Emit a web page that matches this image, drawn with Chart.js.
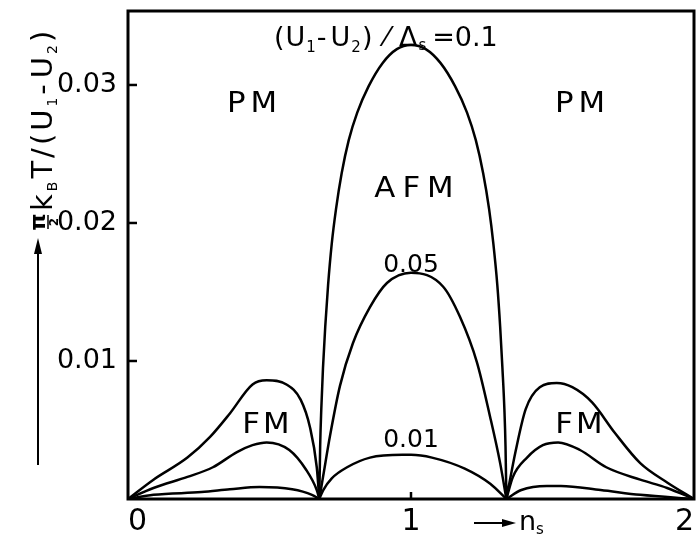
<!DOCTYPE html>
<html><head><meta charset="utf-8">
<script src="https://cdn.jsdelivr.net/npm/chart.js@4/dist/chart.umd.min.js"></script>
<style>html,body{margin:0;padding:0;background:#fff}canvas{display:block}</style>
</head><body>
<canvas id="c" width="698" height="537"></canvas>
<script>
// ---- data ----
const xTicks = [0, 1, 2];
const yTicks = [0.01, 0.02, 0.03];
const yTickLabels = ['0.01', '0.02', '0.03'];
const curveLabels = ['0.1', '0.05', '0.01'];

// (U1-U2)/Δs = 0.1  (null separates FM | AFM | FM branches)
const n_01 = [0, 0.09, 0.21, 0.29, 0.36, 0.44, 0.49, 0.56, 0.61, 0.643, 0.667, 0.676,
              0.676, 0.676, 0.679, 0.683, 0.689, 0.697, 0.707, 0.72, 0.735, 0.755, 0.78, 0.81, 0.85, 0.90, 0.95,
              1.0, 1.052, 1.104, 1.156, 1.198, 1.229, 1.255, 1.276, 1.291, 1.305, 1.315, 1.323, 1.33, 1.334, 1.337,
              1.337, 1.337, 1.37, 1.405, 1.455, 1.515, 1.57, 1.64, 1.72, 1.81, 1.905, 2.0];
const T_01 = [0, 0.0014, 0.0030, 0.0045, 0.0062, 0.0083, 0.0086, 0.0083, 0.0072, 0.0052, 0.0023, 0,
              null, 0, 0.0038, 0.0065, 0.0095, 0.0125, 0.0155, 0.0185, 0.0210, 0.0236, 0.0260, 0.0280, 0.0299, 0.0316, 0.0326,
              0.0329, 0.0326, 0.0316, 0.0299, 0.0280, 0.0260, 0.0236, 0.0210, 0.0185, 0.0155, 0.0125, 0.0095, 0.0065, 0.0038, 0,
              null, 0, 0.0035, 0.0065, 0.0081, 0.0084, 0.0081, 0.0070, 0.0048, 0.0026, 0.0012, 0];

// (U1-U2)/Δs = 0.05
const n_005 = [0, 0.09, 0.21, 0.30, 0.385, 0.44, 0.49, 0.57, 0.63, 0.667, 0.676,
               0.676, 0.676, 0.69, 0.714, 0.749, 0.795, 0.855, 0.915, 1.0, 1.113, 1.173, 1.233, 1.279, 1.315, 1.337,
               1.337, 1.337, 1.36, 1.41, 1.466, 1.52, 1.597, 1.69, 1.81, 1.905, 2.0];
const T_005 = [0, 0.0008, 0.0016, 0.0023, 0.0034, 0.0039, 0.0041, 0.00355, 0.0021, 0.00065, 0,
               null, 0, 0.0017, 0.0046, 0.0082, 0.0113, 0.0139, 0.01565, 0.0164, 0.0154, 0.0132, 0.0099, 0.0060, 0.0026, 0,
               null, 0, 0.0016, 0.0030, 0.0039, 0.0041, 0.00355, 0.0023, 0.0014, 0.0008, 0];

// (U1-U2)/Δs = 0.01
const n_001 = [0, 0.09, 0.26, 0.36, 0.465, 0.58, 0.65, 0.676,
               0.676, 0.676, 0.69, 0.72, 0.774, 0.855, 0.97, 1.0, 1.074, 1.19, 1.28, 1.337,
               1.337, 1.337, 1.39, 1.48, 1.53, 1.67, 1.81, 2.0];
const T_001 = [0, 0.0003, 0.0005, 0.0007, 0.00087, 0.0007, 0.0003, 0,
               null, 0, 0.00065, 0.0015, 0.0023, 0.0030, 0.0032, 0.0032, 0.0030, 0.0022, 0.0011, 0,
               null, 0, 0.00065, 0.00094, 0.00094, 0.00065, 0.0003, 0];

// ---- chart ----
const FONT = '"DejaVu Sans", "Liberation Sans", sans-serif';
const pts = (n, t) => n.map((v, i) => ({ x: v, y: t[i] }));
const mkSet = (label, n, t) => ({
  label, data: pts(n, t), borderColor: '#000', borderWidth: 2.5,
  pointRadius: 0, fill: false, cubicInterpolationMode: 'monotone', spanGaps: false
});

function drawRuns(ctx, runs, x, y, gap) {
  for (const r of runs) {
    ctx.font = (r.bold ? 'bold ' : '') + r.size + 'px ' + FONT;
    ctx.fillText(r.t, x, y + (r.dy || 0));
    x += ctx.measureText(r.t).width + (r.gap !== undefined ? r.gap : (gap || 0));
  }
  return x;
}
function spaced(ctx, text, cx, y, size, sp, sx) {
  sx = sx || 1;
  ctx.save();
  ctx.font = size + 'px ' + FONT;
  ctx.textAlign = 'left';
  const chars = [...text];
  const w = chars.reduce((s, c) => s + ctx.measureText(c).width * sx, 0) + sp * (chars.length - 1);
  let x = cx - w / 2;
  for (const c of chars) {
    ctx.save(); ctx.translate(x, y); ctx.scale(sx, 1); ctx.fillText(c, 0, 0); ctx.restore();
    x += ctx.measureText(c).width * sx + sp;
  }
  ctx.restore();
}

const decor = {
  id: 'decor',
  afterDatasetsDraw(chart) {
    const ctx = chart.ctx, a = chart.chartArea;
    const xs = chart.scales.x, ys = chart.scales.y;
    ctx.save();
    ctx.strokeStyle = '#000'; ctx.fillStyle = '#000';
    // frame
    ctx.lineWidth = 3;
    ctx.strokeRect(a.left, a.top, a.right - a.left, a.bottom - a.top);
    // inward ticks
    ctx.lineWidth = 2.5;
    yTicks.forEach(v => {
      const py = ys.getPixelForValue(v);
      ctx.beginPath(); ctx.moveTo(a.left, py); ctx.lineTo(a.left + 9, py); ctx.stroke();
    });
    const p1 = xs.getPixelForValue(1);
    ctx.beginPath(); ctx.moveTo(p1, a.bottom); ctx.lineTo(p1, a.bottom - 7); ctx.stroke();

    // annotations
    ctx.textBaseline = 'alphabetic'; ctx.textAlign = 'left';
    drawRuns(ctx, [
      { t: '(', size: 27 }, { t: 'U', size: 27 }, { t: '1', size: 15, dy: 6 }, { t: '-', size: 27, gap: 4 },
      { t: 'U', size: 27 }, { t: '2', size: 15, dy: 6 }, { t: ')', size: 27, gap: 12 },
      { t: '⁄', size: 27, gap: 10 }, { t: 'Δ', size: 27 }, { t: 's', size: 15, dy: 4, gap: 6 }, { t: '=0.1', size: 27 }
    ], 274, 46, 1);
    spaced(ctx, 'PM', 252, 112, 28, 5, 1.1);
    spaced(ctx, 'PM', 580, 112, 28, 5, 1.1);
    spaced(ctx, 'AFM', 414, 197, 28, 7, 1.1);
    spaced(ctx, 'FM', 266, 433, 28, 3, 1.1);
    spaced(ctx, 'FM', 579, 433, 28, 3, 1.1);
    spaced(ctx, curveLabels[1], 411, 272, 25, 0, 1);
    spaced(ctx, curveLabels[2], 411, 447, 25, 0, 1);

    // x-axis arrow + n_s
    ctx.lineWidth = 2;
    ctx.beginPath(); ctx.moveTo(474, 523); ctx.lineTo(505, 523); ctx.stroke();
    ctx.beginPath(); ctx.moveTo(516, 523); ctx.lineTo(502, 519); ctx.lineTo(502, 527); ctx.closePath(); ctx.fill();
    drawRuns(ctx, [{ t: 'n', size: 27 }, { t: 's', size: 15, dy: 4 }], 519, 530, 0);

    // y-axis title (rotated) with arrow
    ctx.save();
    ctx.rotate(-Math.PI / 2);
    // rotated frame: screen x = yr, screen y = -xr
    ctx.textAlign = 'center';
    ctx.font = 'bold 22px ' + FONT;
    ctx.fillText('π', -222, 45);
    ctx.lineWidth = 1.5;
    ctx.beginPath(); ctx.moveTo(-229, 48); ctx.lineTo(-215, 48); ctx.stroke();
    ctx.font = 'bold 12px ' + FONT;
    ctx.fillText('2', -222, 58);
    ctx.textAlign = 'left';
    drawRuns(ctx, [
      { t: 'k', size: 29 }, { t: 'B', size: 14, dy: 5 }, { t: 'T', size: 29 }, { t: '/', size: 29 }, { t: '(', size: 29 },
      { t: 'U', size: 29 }, { t: '1', size: 14, dy: 5 }, { t: '-', size: 29, gap: 6 }, { t: 'U', size: 29 },
      { t: '2', size: 14, dy: 5 }, { t: ')', size: 29 }
    ], -211, 52, 3);
    ctx.restore();
    ctx.lineWidth = 2;
    ctx.beginPath(); ctx.moveTo(38, 465); ctx.lineTo(38, 250); ctx.stroke();
    ctx.beginPath(); ctx.moveTo(38, 238); ctx.lineTo(34, 254); ctx.lineTo(42, 254); ctx.closePath(); ctx.fill();
    ctx.restore();
  }
};

new Chart(document.getElementById('c'), {
  type: 'line',
  data: { datasets: [mkSet(curveLabels[0], n_01, T_01), mkSet(curveLabels[1], n_005, T_005), mkSet(curveLabels[2], n_001, T_001)] },
  options: {
    responsive: false, animation: false, devicePixelRatio: 1,
    layout: { padding: { left: 0, right: 4, top: 11, bottom: 0 } },
    plugins: { legend: { display: false }, tooltip: { enabled: false }, title: { display: false } },
    scales: {
      x: {
        type: 'linear', min: 0, max: 2,
        afterBuildTicks: s => { s.ticks = xTicks.map(v => ({ value: v })); },
        afterFit: s => { s.height = 38; s.paddingLeft = 0; s.paddingRight = 0; },
        ticks: { color: '#000', font: { family: FONT, size: 30 }, padding: 5, maxRotation: 0, align: 'inner', callback: v => String(v) },
        grid: { display: false, drawTicks: false }, border: { display: false }
      },
      y: {
        type: 'linear', min: 0, max: 0.03536,
        afterBuildTicks: s => { s.ticks = yTicks.map(v => ({ value: v })); },
        afterFit: s => { s.width = 128; s.paddingTop = 0; s.paddingBottom = 0; },
        ticks: { color: '#000', font: { family: FONT, size: 27 }, padding: 11,
                 callback: v => { const i = yTicks.findIndex(t => Math.abs(t - v) < 1e-9); return i >= 0 ? yTickLabels[i] : ''; } },
        grid: { display: false, drawTicks: false }, border: { display: false }
      }
    }
  },
  plugins: [decor]
});
</script>
</body></html>
